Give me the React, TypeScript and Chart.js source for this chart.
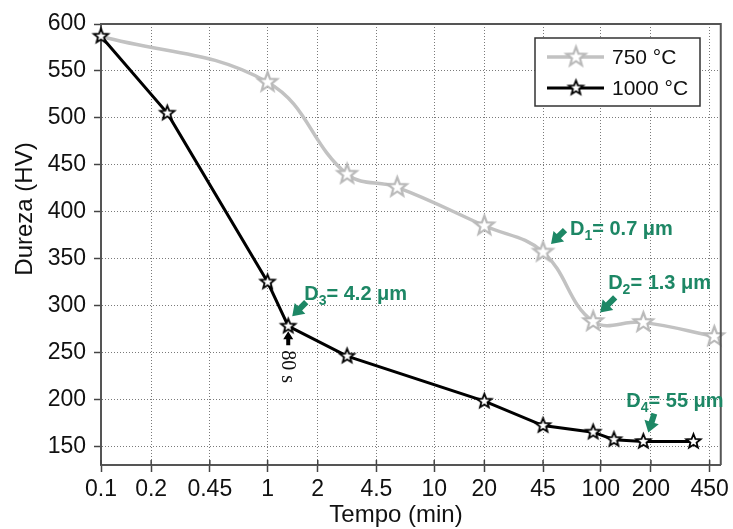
import React, { useEffect, useRef } from "react";
import { Chart, registerables } from "chart.js";

Chart.register(...registerables);

// ---- data ----
const xTickValues = [0.1, 0.2, 0.45, 1, 2, 4.5, 10, 20, 45, 100, 200, 450];
const yTickValues = [150, 200, 250, 300, 350, 400, 450, 500, 550, 600];

const time750 = [0.1, 1, 3, 6, 20, 45, 90, 180, 480];
const hv750 = [587, 538, 440, 426, 385, 357, 283, 282, 267];

const time1000 = [0.1, 0.25, 1, 1.33, 3, 20, 45, 90, 120, 180, 360];
const hv1000 = [587, 505, 325, 278, 246, 198, 172, 165, 157, 155, 155];

const seriesLabels = ["750 °C", "1000 °C"];
const xTitle = "Tempo (min)";
const yTitle = "Dureza (HV)";

const GREEN = "#1d8765";
const GRAY = "#c2c2c2";
const GRAY_STAR = "#b9b9b9";
const FONT = "'Liberation Sans', Arial, Helvetica, sans-serif";

function makeStar(R: number, r: number, stroke: string, lw: number) {
  const size = Math.ceil(2 * R + lw * 2 + 4);
  const c = document.createElement("canvas");
  c.width = size;
  c.height = size;
  const g = c.getContext("2d")!;
  g.translate(size / 2, size / 2);
  g.beginPath();
  for (let i = 0; i < 10; i++) {
    const a = -Math.PI / 2 + (i * Math.PI) / 5;
    const rad = i % 2 === 0 ? R : r;
    g.lineTo(rad * Math.cos(a), rad * Math.sin(a));
  }
  g.closePath();
  g.fillStyle = "#fff";
  g.fill();
  g.lineWidth = lw;
  g.strokeStyle = stroke;
  g.lineJoin = "miter";
  g.stroke();
  return c;
}

function drawArrow(
  ctx: CanvasRenderingContext2D,
  tx: number, ty: number, sx: number, sy: number,
  color: string, shaft: number, headLen: number, headW: number
) {
  const ang = Math.atan2(ty - sy, tx - sx);
  const len = Math.hypot(tx - sx, ty - sy);
  ctx.save();
  ctx.translate(sx, sy);
  ctx.rotate(ang);
  ctx.fillStyle = color;
  ctx.beginPath();
  ctx.moveTo(0, -shaft / 2);
  ctx.lineTo(len - headLen, -shaft / 2);
  ctx.lineTo(len - headLen, -headW / 2);
  ctx.lineTo(len, 0);
  ctx.lineTo(len - headLen, headW / 2);
  ctx.lineTo(len - headLen, shaft / 2);
  ctx.lineTo(0, shaft / 2);
  ctx.closePath();
  ctx.fill();
  ctx.restore();
}

function drawDLabel(ctx: CanvasRenderingContext2D, x: number, y: number, sub: string, rest: string) {
  ctx.save();
  ctx.fillStyle = GREEN;
  ctx.textBaseline = "alphabetic";
  ctx.textAlign = "left";
  ctx.font = `bold 20px ${FONT}`;
  ctx.fillText("D", x, y);
  let cx = x + ctx.measureText("D").width;
  ctx.font = `bold 14px ${FONT}`;
  ctx.fillText(sub, cx, y + 5);
  cx += ctx.measureText(sub).width;
  ctx.font = `bold 20px ${FONT}`;
  ctx.fillText(rest, cx, y);
  ctx.restore();
}

export default function App() {
  const ref = useRef<HTMLCanvasElement | null>(null);

  useEffect(() => {
    if (!ref.current) return;
    const starBlack = makeStar(7.5, 3.2, "#000", 1.8);
    const starGray = makeStar(10, 4.2, GRAY_STAR, 2.2);

    const overlay = {
      id: "overlay",
      afterDraw(chart: any) {
        const ctx: CanvasRenderingContext2D = chart.ctx;
        const ca = chart.chartArea;
        const xs = chart.scales.x;
        const ys = chart.scales.y;
        ctx.save();
        // frame
        ctx.strokeStyle = "#555";
        ctx.lineWidth = 2;
        ctx.beginPath();
        ctx.moveTo(ca.left, ca.top);
        ctx.lineTo(ca.right, ca.top);
        ctx.lineTo(ca.right, ca.bottom);
        ctx.stroke();

        // inner part of x tick marks
        ctx.strokeStyle = "#444";
        ctx.lineWidth = 1.5;
        xTickValues.forEach((v) => {
          const x = xs.getPixelForValue(v);
          ctx.beginPath();
          ctx.moveTo(x, ca.bottom - 5);
          ctx.lineTo(x, ca.bottom);
          ctx.stroke();
        });

        // axis titles
        ctx.fillStyle = "#111";
        ctx.font = `24px ${FONT}`;
        ctx.textAlign = "center";
        ctx.textBaseline = "middle";
        ctx.fillText(xTitle, 396, 515);
        ctx.save();
        ctx.translate(25, 209);
        ctx.rotate(-Math.PI / 2);
        ctx.fillText(yTitle, 0, 0);
        ctx.restore();

        // legend
        const lx = 535, ly = 38, lw = 165, lh = 68;
        ctx.fillStyle = "#fff";
        ctx.fillRect(lx, ly, lw, lh);
        ctx.strokeStyle = "#333";
        ctx.lineWidth = 1.5;
        ctx.strokeRect(lx, ly, lw, lh);
        const rows = [
          { y: ly + 19, color: GRAY, width: 3.5, star: starGray, label: seriesLabels[0] },
          { y: ly + 50, color: "#000", width: 3, star: starBlack, label: seriesLabels[1] },
        ];
        rows.forEach((r) => {
          ctx.strokeStyle = r.color;
          ctx.lineWidth = r.width;
          ctx.beginPath();
          ctx.moveTo(lx + 12, r.y);
          ctx.lineTo(lx + 69, r.y);
          ctx.stroke();
          ctx.drawImage(r.star, lx + 41 - r.star.width / 2, r.y - r.star.height / 2);
          ctx.fillStyle = "#111";
          ctx.font = `21px ${FONT}`;
          ctx.textAlign = "left";
          ctx.textBaseline = "middle";
          ctx.fillText(r.label, lx + 77, r.y + 1);
        });

        // annotations anchored to data points
        const px = (t: number) => xs.getPixelForValue(t);
        const py = (v: number) => ys.getPixelForValue(v);

        // D1 at 750 °C, 45 min
        let ax = px(time750[5]), ay = py(hv750[5]);
        drawArrow(ctx, ax + 8, ay - 8, ax + 22, ay - 22, GREEN, 6, 11, 15);
        drawDLabel(ctx, ax + 27, ay - 17, "1", "= 0.7 \u03bcm");

        // D2 at 750 °C, 90 min
        ax = px(time750[6]); ay = py(hv750[6]);
        drawArrow(ctx, ax + 7, ay - 9, ax + 22, ay - 24, GREEN, 6, 11, 15);
        drawDLabel(ctx, ax + 15, ay - 32, "2", "= 1.3 \u03bcm");

        // D3 at 1000 °C, 80 s
        ax = px(time1000[3]); ay = py(hv1000[3]);
        drawArrow(ctx, ax + 4, ay - 10, ax + 18, ay - 24, GREEN, 6, 11, 15);
        drawDLabel(ctx, ax + 16, ay - 26, "3", "= 4.2 \u03bcm");

        // D4 at 1000 °C, 180 min
        ax = px(time1000[9]); ay = py(hv1000[9]);
        drawArrow(ctx, ax + 5, ay - 9, ax + 11, ay - 28, GREEN, 6, 11, 15);
        drawDLabel(ctx, ax - 17, ay - 35, "4", "= 55 \u03bcm");

        // 80 s marker
        ax = px(time1000[3]); ay = py(hv1000[3]);
        drawArrow(ctx, ax, ay + 5, ax, ay + 19, "#000", 4, 8, 10);
        ctx.save();
        ctx.translate(ax - 1, ay + 24);
        ctx.rotate(Math.PI / 2);
        ctx.fillStyle = "#111";
        ctx.font = `20px 'Liberation Serif', 'Times New Roman', serif`;
        ctx.textAlign = "left";
        ctx.textBaseline = "middle";
        ctx.fillText("80 s", 0, 0);
        ctx.restore();

        ctx.restore();
      },
    };

    const chart = new Chart(ref.current, {
      type: "line",
      data: {
        datasets: [
          {
            label: seriesLabels[1],
            data: time1000.map((t, i) => ({ x: t, y: hv1000[i] })),
            borderColor: "#000",
            borderWidth: 3,
            tension: 0,
            pointStyle: starBlack as any,
            pointRadius: 6,
            clip: false as any,
          },
          {
            label: seriesLabels[0],
            data: time750.map((t, i) => ({ x: t, y: hv750[i] })),
            borderColor: GRAY,
            borderWidth: 3.5,
            tension: 0.4,
            pointStyle: starGray as any,
            pointRadius: time750.map((_, i) => (i === 0 ? 0 : 7)),
            clip: false as any,
          },
        ],
      },
      options: {
        animation: false,
        responsive: true,
        maintainAspectRatio: false,
        layout: { padding: { top: 24, right: 11, left: 0, bottom: 0 } },
        plugins: { legend: { display: false }, tooltip: { enabled: false } },
        scales: {
          x: {
            type: "logarithmic",
            min: 0.1,
            max: 525,
            afterBuildTicks: (s: any) => {
              s.ticks = xTickValues.map((v) => ({ value: v }));
            },
            afterFit: (s: any) => {
              s.height = 64;
            },
            ticks: {
              autoSkip: false,
              maxRotation: 0,
              padding: 4,
              color: "#111",
              font: { family: FONT, size: 23 },
              callback: (v: any) => String(v),
            },
            grid: {
              color: "#7a7a7a",
              lineWidth: 1,
              tickLength: 7,
              tickColor: "#444",
              tickWidth: 1.5,
            },
            border: { dash: [1, 2], color: "#555", width: 2 },
          },
          y: {
            type: "linear",
            min: 130,
            max: 600,
            afterBuildTicks: (s: any) => {
              s.ticks = yTickValues.map((v) => ({ value: v }));
            },
            afterFit: (s: any) => {
              s.width = 101;
            },
            ticks: {
              padding: 8,
              color: "#111",
              font: { family: FONT, size: 23 },
              callback: (v: any) => String(v),
            },
            grid: {
              color: "#7a7a7a",
              lineWidth: 1,
              tickLength: 7,
              tickColor: "#444",
              tickWidth: 1.5,
            },
            border: { dash: [1, 2], color: "#555", width: 2 },
          },
        },
      },
      plugins: [overlay],
    });
    return () => chart.destroy();
  }, []);

  return (
    <div style={{ position: "absolute", left: 0, top: 0, width: 733, height: 529, background: "#fff" }}>
      <canvas ref={ref} />
    </div>
  );
}
